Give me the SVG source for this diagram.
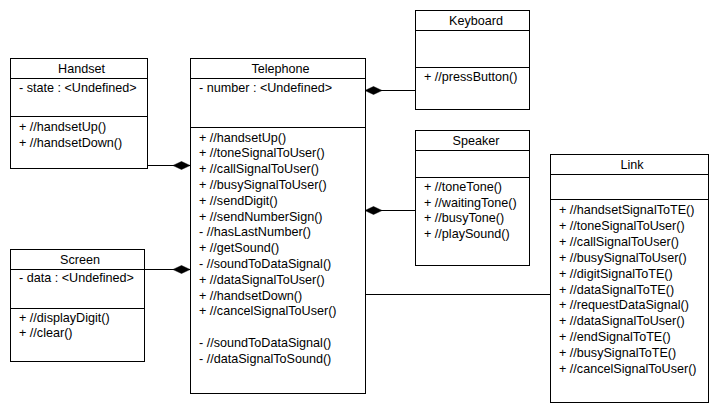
<svg xmlns="http://www.w3.org/2000/svg" width="718" height="413" viewBox="0 0 718 413">
<style>
.box{fill:#fff;stroke:#000;stroke-width:1}
.sep{stroke:#000;stroke-width:1}
text{font-family:"Liberation Sans",Arial,sans-serif;font-size:12.6px;fill:#000}
.t{text-anchor:middle}
.c{stroke:#000;stroke-width:1;fill:none}
.d{fill:#000;stroke:#000;stroke-width:0.5}
</style>
<rect width="718" height="413" fill="#fff"/>
<g id="connectors">
<line class="c" x1="147" y1="165.5" x2="190" y2="165.5"/>
<polygon class="d" points="190,165.5 181.5,161.5 173,165.5 181.5,169.5"/>
<line class="c" x1="144" y1="269.5" x2="190" y2="269.5"/>
<polygon class="d" points="190,269.5 181.5,265.5 173,269.5 181.5,273.5"/>
<line class="c" x1="365" y1="90.5" x2="415" y2="90.5"/>
<polygon class="d" points="365,90.5 373.5,86.5 382,90.5 373.5,94.5"/>
<line class="c" x1="365" y1="210.5" x2="415" y2="210.5"/>
<polygon class="d" points="365,210.5 373.5,206.5 382,210.5 373.5,214.5"/>
<line class="c" x1="365" y1="294.5" x2="550" y2="294.5"/>
</g>
<g id="handset">
<rect class="box" x="10.5" y="58.5" width="137" height="110"/>
<line class="sep" x1="10" y1="78.5" x2="147" y2="78.5"/>
<line class="sep" x1="10" y1="116.5" x2="147" y2="116.5"/>
<text class="t" x="81.5" y="73">Handset</text>
<text x="19" y="92">- state : &lt;Undefined&gt;</text>
<text x="19" y="131">+ //handsetUp()</text>
<text x="19" y="147">+ //handsetDown()</text>
</g>
<g id="telephone">
<rect class="box" x="190.5" y="58.5" width="175" height="335"/>
<line class="sep" x1="190" y1="78.5" x2="365" y2="78.5"/>
<line class="sep" x1="190" y1="127.5" x2="365" y2="127.5"/>
<text class="t" x="280.5" y="73">Telephone</text>
<text x="199" y="92">- number : &lt;Undefined&gt;</text>
<text x="199" y="141.5">+ //handsetUp()</text>
<text x="199" y="157.3">+ //toneSignalToUser()</text>
<text x="199" y="173.1">+ //callSignalToUser()</text>
<text x="199" y="188.9">+ //busySignalToUser()</text>
<text x="199" y="204.7">+ //sendDigit()</text>
<text x="199" y="220.5">+ //sendNumberSign()</text>
<text x="199" y="236.3">- //hasLastNumber()</text>
<text x="199" y="252.1">+ //getSound()</text>
<text x="199" y="267.9">- //soundToDataSignal()</text>
<text x="199" y="283.7">+ //dataSignalToUser()</text>
<text x="199" y="299.5">+ //handsetDown()</text>
<text x="199" y="315.3">+ //cancelSignalToUser()</text>
<text x="199" y="346.9">- //soundToDataSignal()</text>
<text x="199" y="362.7">- //dataSignalToSound()</text>
</g>
<g id="keyboard">
<rect class="box" x="415.5" y="10.5" width="114" height="99"/>
<line class="sep" x1="415" y1="30.5" x2="529" y2="30.5"/>
<line class="sep" x1="415" y1="67.5" x2="529" y2="67.5"/>
<text class="t" x="476" y="25">Keyboard</text>
<text x="424" y="81">+ //pressButton()</text>
</g>
<g id="speaker">
<rect class="box" x="415.5" y="130.5" width="114" height="135"/>
<line class="sep" x1="415" y1="150.5" x2="529" y2="150.5"/>
<line class="sep" x1="415" y1="177.5" x2="529" y2="177.5"/>
<text class="t" x="476" y="145">Speaker</text>
<text x="424" y="191">+ //toneTone()</text>
<text x="424" y="206.5">+ //waitingTone()</text>
<text x="424" y="222">+ //busyTone()</text>
<text x="424" y="237.5">+ //playSound()</text>
</g>
<g id="link">
<rect class="box" x="550.5" y="154.5" width="158" height="248"/>
<line class="sep" x1="550" y1="174.5" x2="708" y2="174.5"/>
<line class="sep" x1="550" y1="199.5" x2="708" y2="199.5"/>
<text class="t" x="632" y="169">Link</text>
<text x="559" y="214">+ //handsetSignalToTE()</text>
<text x="559" y="229.9">+ //toneSignalToUser()</text>
<text x="559" y="245.8">+ //callSignalToUser()</text>
<text x="559" y="261.7">+ //busySignalToUser()</text>
<text x="559" y="277.6">+ //digitSignalToTE()</text>
<text x="559" y="293.5">+ //dataSignalToTE()</text>
<text x="559" y="309.4">+ //requestDataSignal()</text>
<text x="559" y="325.3">+ //dataSignalToUser()</text>
<text x="559" y="341.2">+ //endSignalToTE()</text>
<text x="559" y="357.1">+ //busySignalToTE()</text>
<text x="559" y="373">+ //cancelSignalToUser()</text>
</g>
<g id="screen">
<rect class="box" x="10.5" y="249.5" width="134" height="112"/>
<line class="sep" x1="10" y1="269.5" x2="144" y2="269.5"/>
<line class="sep" x1="10" y1="308.5" x2="144" y2="308.5"/>
<text class="t" x="80" y="264">Screen</text>
<text x="19" y="282">- data : &lt;Undefined&gt;</text>
<text x="19" y="322">+ //displayDigit()</text>
<text x="19" y="337">+ //clear()</text>
</g>
</svg>
